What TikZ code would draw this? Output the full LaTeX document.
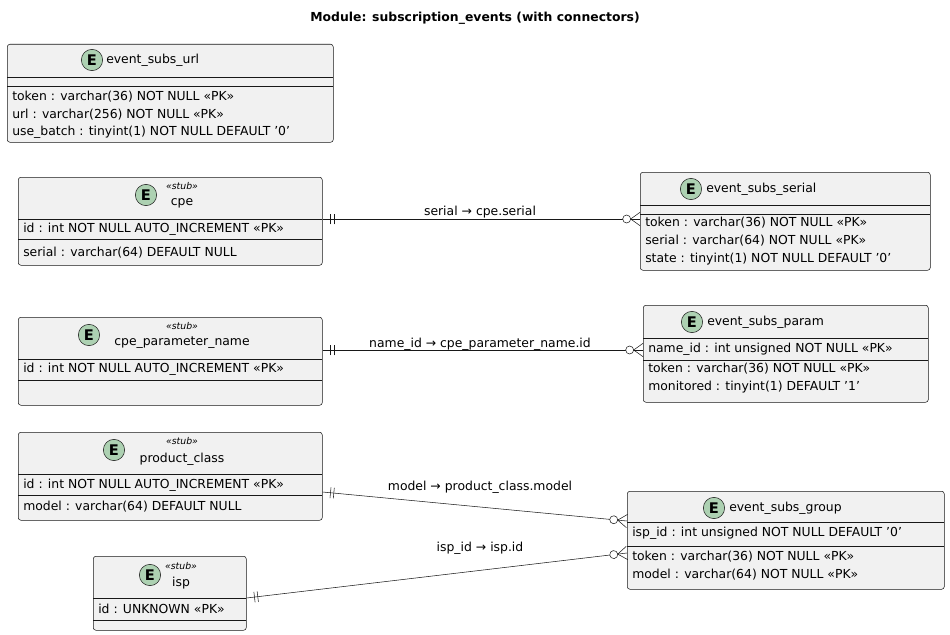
\documentclass[tikz,border=0pt]{standalone}
\usepackage{fontspec}
\setmainfont{DejaVu Sans}
\usetikzlibrary{calc}
\usetikzlibrary{decorations.markings}
\definecolor{entfill}{RGB}{241,241,241}
\definecolor{entline}{RGB}{24,24,24}
\definecolor{iconfill}{RGB}{173,209,178}
\newcommand{\px}{0.75pt}
\tikzset{
  ent/.style={draw=entline, fill=entfill, rounded corners=2pt, anchor=north west, inner sep=0pt},
  field/.style={anchor=west, inner sep=0pt, font=\fontsize{9.3}{11}\selectfont},
  title/.style={inner sep=0pt, font=\fontsize{9.3}{11}\selectfont},
  stub/.style={inner sep=0pt, font=\fontsize{7}{8}\selectfont\itshape},
  icon/.style={circle, draw=entline, fill=iconfill, minimum size=16pt, inner sep=0pt, font=\fontsize{11}{12}\selectfont\bfseries},
  lbl/.style={inner sep=0pt, font=\fontsize{9.3}{11}\selectfont},
  rel/.style={draw=entline, postaction={decorate, decoration={markings,
    mark=at position 0 with {\draw (6pt,-4pt) -- (6pt,4pt) (8.5pt,-4pt) -- (8.5pt,4pt);},
    mark=at position 1 with {\draw (0,5pt) -- (-7pt,0) -- (0,-5pt);
      \draw[fill=white] (-10pt,0) circle (3pt);}}}},
}
\begin{document}
\begin{tikzpicture}[x=0.75pt, y=-0.75pt]
  \useasboundingbox (0,0) rectangle (950,635);
  \node[font=\fontsize{9.3}{11}\selectfont\bfseries] (hdr) at (475,18) {Module: subscription\_events (with connectors)};

  % event_subs_url
  \node[ent, minimum width=326*\px, minimum height=98*\px] (url) at (7,44) {};
  \node[icon] (urlE) at (92,60) {E};
  \node[title, anchor=west] (urlT) at (106,60) {event\_subs\_url};
  \draw[entline] (7,77) -- (333,77) (7,86) -- (333,86);
  \node[field] at (12,97) {token : varchar(36) NOT NULL «PK»};
  \node[field] at (12,115) {url : varchar(256) NOT NULL «PK»};
  \node[field] at (12,132) {use\_batch : tinyint(1) NOT NULL DEFAULT '0'};

  % cpe
  \node[ent, minimum width=304*\px, minimum height=88*\px] (cpe) at (18,177) {};
  \node[icon] (cpeE) at (146,195) {E};
  \node[stub] at (182,186) {«stub»};
  \node[title] at (182,203) {cpe};
  \draw[entline] (18,219) -- (322,219) (18,239) -- (322,239);
  \node[field] at (23,229) {id : int NOT NULL AUTO\_INCREMENT «PK»};
  \node[field] at (23,253) {serial : varchar(64) DEFAULT NULL};

  % event_subs_serial
  \node[ent, minimum width=290*\px, minimum height=98*\px] (serial) at (640,172) {};
  \node[icon] (serialE) at (691,189) {E};
  \node[title, anchor=west] at (706,189) {event\_subs\_serial};
  \draw[entline] (640,205) -- (930,205) (640,214) -- (930,214);
  \node[field] at (645,223) {token : varchar(36) NOT NULL «PK»};
  \node[field] at (645,241) {serial : varchar(64) NOT NULL «PK»};
  \node[field] at (645,259) {state : tinyint(1) NOT NULL DEFAULT '0'};

  % cpe_parameter_name
  \node[ent, minimum width=304*\px, minimum height=88*\px] (cpn) at (18,317) {};
  \node[icon] (cpnE) at (89,335) {E};
  \node[stub] at (182,326) {«stub»};
  \node[title] at (182,343) {cpe\_parameter\_name};
  \draw[entline] (18,359) -- (322,359) (18,380) -- (322,380);
  \node[field] at (23,369) {id : int NOT NULL AUTO\_INCREMENT «PK»};

  % event_subs_param
  \node[ent, minimum width=285*\px, minimum height=97*\px] (param) at (643,305) {};
  \node[icon] (paramE) at (692,322) {E};
  \node[title, anchor=west] at (707,322) {event\_subs\_param};
  \draw[entline] (643,338) -- (928,338) (643,360) -- (928,360);
  \node[field] at (648,349) {name\_id : int unsigned NOT NULL «PK»};
  \node[field] at (648,369) {token : varchar(36) NOT NULL «PK»};
  \node[field] at (648,387) {monitored : tinyint(1) DEFAULT '1'};

  % product_class
  \node[ent, minimum width=304*\px, minimum height=88*\px] (prod) at (18,432) {};
  \node[icon] (prodE) at (114,450) {E};
  \node[stub] at (182,441) {«stub»};
  \node[title] at (182,459) {product\_class};
  \draw[entline] (18,474) -- (322,474) (18,495) -- (322,495);
  \node[field] at (23,485) {id : int NOT NULL AUTO\_INCREMENT «PK»};
  \node[field] at (23,507) {model : varchar(64) DEFAULT NULL};

  % isp
  \node[ent, minimum width=153*\px, minimum height=74*\px] (isp) at (93,556) {};
  \node[icon] (ispE) at (150,575) {E};
  \node[stub] at (181,566) {«stub»};
  \node[title] at (181,583) {isp};
  \draw[entline] (93,598) -- (246,598) (93,620) -- (246,620);
  \node[field] at (98,609) {id : UNKNOWN «PK»};

  % event_subs_group
  \node[ent, minimum width=317*\px, minimum height=98*\px] (group) at (627,491) {};
  \node[icon] (groupE) at (714,508) {E};
  \node[title, anchor=west] at (729,508) {event\_subs\_group};
  \draw[entline] (627,522) -- (944,522) (627,546) -- (944,546);
  \node[field] at (632,533) {isp\_id : int unsigned NOT NULL DEFAULT '0'};
  \node[field] at (632,557) {token : varchar(36) NOT NULL «PK»};
  \node[field] at (632,575) {model : varchar(64) NOT NULL «PK»};

  % connectors
  \path[rel] ($(cpe.north east)+(0,42)$) -- ($(serial.north west)+(0,47)$);
  \node[lbl] at (480,212) {serial → cpe.serial};
  \path[rel] ($(cpn.north east)+(0,33)$) -- ($(param.north west)+(0,45)$);
  \node[lbl] at (480,344) {name\_id → cpe\_parameter\_name.id};
  \path[rel] ($(prod.north east)+(0,60)$) -- ($(group.north west)+(0,30)$);
  \node[lbl] at (480,487) {model → product\_class.model};
  \path[rel] ($(isp.north east)+(0,42)$) -- ($(group.north west)+(0,62)$);
  \node[lbl] at (480,548) {isp\_id → isp.id};
\end{tikzpicture}
\end{document}
